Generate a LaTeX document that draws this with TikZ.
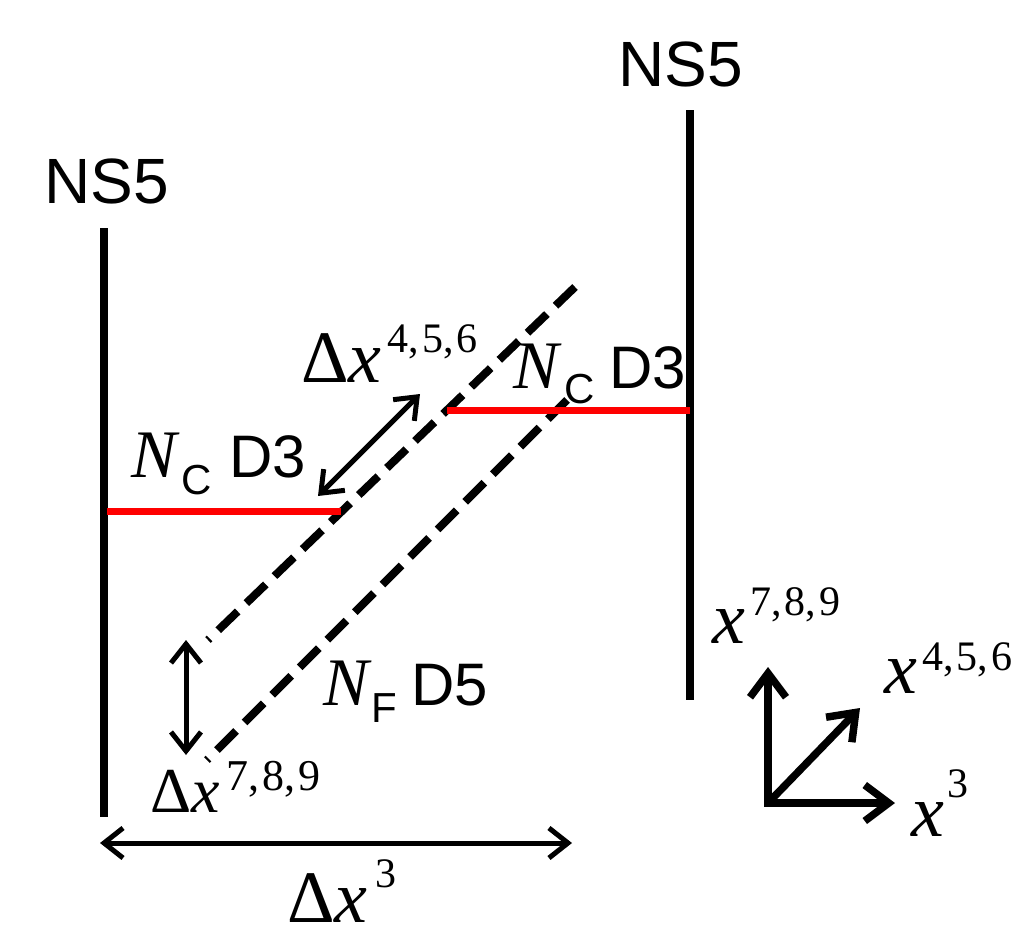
\documentclass[tikz,border=0pt]{standalone}
\usepackage{fontspec}
\setmainfont{Liberation Serif}
\newfontfamily\arsans{Liberation Sans}
\usetikzlibrary{arrows.meta}
\newcommand{\supr}[3]{\raisebox{#1}{\fontsize{#2}{#2}\selectfont #3}}
\newcommand{\cm}{,\kern3pt}
\tikzset{
  brane/.style={line width=8pt},
  dthree/.style={line width=7pt, red},
  dfive/.style={line width=8pt, dash pattern=on 27pt off 12pt},
  thinarr/.style={line width=5pt, {Straight Barb[length=19pt,width=30pt]}-{Straight Barb[length=19pt,width=30pt]}},
  axarr/.style={line width=7.5pt, -{Straight Barb[length=24pt,width=36pt]}},
  lbl/.style={inner sep=0pt, anchor=base west},
}
\begin{document}
\begin{tikzpicture}[x=1pt,y=-1pt]
\useasboundingbox (0,0) rectangle (1033,940);
% coordinates
\coordinate (L1) at (104,228); \coordinate (L2) at (104,817);
\coordinate (R1) at (690,110); \coordinate (R2) at (690,700);
\coordinate (rl1) at (107,511); \coordinate (rl2) at (341,511);
\coordinate (rr1) at (447,410); \coordinate (rr2) at (690,410);
\coordinate (du1) at (575,287); \coordinate (du2) at (208,640);
\coordinate (dl1) at (567,400); \coordinate (dl2) at (207,760);
\coordinate (a1) at (420,394); \coordinate (a2) at (318,496);
\coordinate (v1) at (186,640); \coordinate (v2) at (186,755);
\coordinate (h1) at (100,843); \coordinate (h2) at (572,843);
\coordinate (O) at (768,803);
\coordinate (ax3) at (895,803); \coordinate (ax789) at (768,667); \coordinate (ax456) at (860,708);
% branes
\draw[brane] (L1) -- (L2);
\draw[brane] (R1) -- (R2);
\draw[dfive] (du1) -- (du2);
\draw[dfive] (dl1) -- (dl2);
\draw[dthree] (rl1) -- (rl2);
\draw[dthree] (rr1) -- (rr2);
% arrows
\draw[thinarr] (a1) -- (a2);
\draw[thinarr] (v1) -- (v2);
\draw[thinarr] (h1) -- (h2);
\draw[axarr] (O) -- (ax789);
\draw[axarr] (O) -- (ax3);
\draw[axarr] (O) -- (ax456);
\fill (764.25,799.25) rectangle (771.75,806.75);
% labels
\node[inner sep=0pt, anchor=base] (ns5l) at (107,203) {\arsans\fontsize{64}{64}\selectfont NS5};
\node[inner sep=0pt, anchor=base] (ns5r) at (681,86) {\arsans\fontsize{64}{64}\selectfont NS5};
\node[lbl] (tdx456) at (301,382) {\fontsize{74}{74}\selectfont Δ\textit{x}\kern6pt\supr{30pt}{42}{4\cm5\cm6}};
\node[lbl] (tdx3) at (287,922) {\fontsize{74}{74}\selectfont Δ\textit{x}\kern8pt\supr{35pt}{42}{3}};
\node[lbl] (tdx789) at (150,812) {\fontsize{64}{64}\selectfont Δ\textit{x}\kern7pt\supr{22pt}{44}{7\cm8\cm9}};
\node[lbl] (tx789) at (712,643) {\fontsize{74}{74}\selectfont\textit{x}\kern5pt\supr{28pt}{42}{7\cm8\cm9}};
\node[lbl] (tx456) at (884,693) {\fontsize{74}{74}\selectfont\textit{x}\kern5pt\supr{23pt}{42}{4\cm5\cm6}};
\node[lbl] (tx3) at (911,836) {\fontsize{74}{74}\selectfont\textit{x}\kern3pt\supr{39pt}{42}{3}};
\node[lbl] (ncl) at (131,477) {\fontsize{68}{68}\selectfont\textit{N}\kern2pt\raisebox{-17pt}{\arsans\fontsize{42}{42}\selectfont C}\kern17pt{\arsans\fontsize{60}{60}\selectfont D3}};
\node[lbl] (ncr) at (513,388) {\fontsize{68}{68}\selectfont\textit{N}\kern3pt\raisebox{-15pt}{\arsans\fontsize{42}{42}\selectfont C}\kern14pt{\arsans\fontsize{60}{60}\selectfont D3}};
\node[lbl] (nf) at (323,705) {\fontsize{68}{68}\selectfont\textit{N}\kern0pt\raisebox{-17pt}{\arsans\fontsize{42}{42}\selectfont F}\kern14pt{\arsans\fontsize{60}{60}\selectfont D5}};
\end{tikzpicture}
\end{document}
